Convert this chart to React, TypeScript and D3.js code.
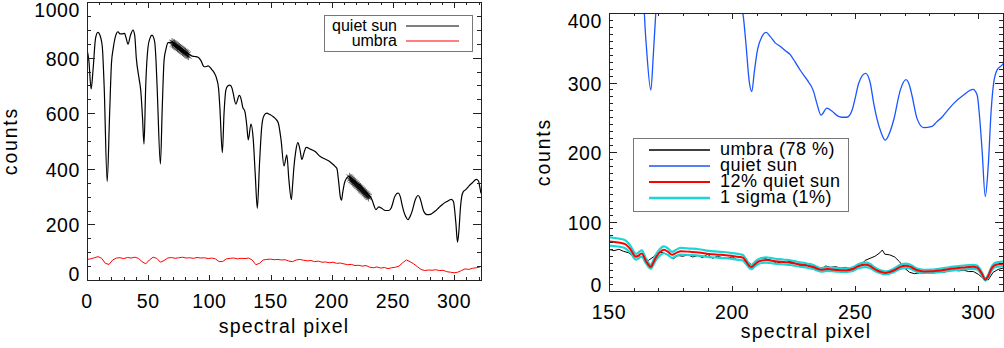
import React, { useRef, useEffect } from "react";
import * as d3 from "d3";

// quiet sun spectrum: [spectral pixel, counts]
const quietSun: [number, number][] = [
	[0, 830], [1.5, 790], [3.4, 687], [5, 760], [7, 870], [8.9, 891], [11, 875], [12.5, 840], [14, 700], [16.5, 354],
	[18.5, 600], [20, 780], [21.5, 835], [23.5, 880], [25.3, 893], [27, 885], [28.5, 885], [30.7, 887], [32, 870], [33.5, 848],
	[35.5, 880], [37.6, 899], [39, 880], [40.3, 798], [42.5, 726], [43.9, 683], [45.3, 590], [46.6, 489], [48, 700], [49.9, 839],
	[51.5, 870], [53.1, 881], [55.3, 857], [56.5, 780], [57.5, 672], [60, 417], [61.5, 620], [63, 791], [64.5, 830], [66.2, 854],
	[69, 855], [72, 845], [75, 835], [78, 825], [81, 815], [83, 812], [85.4, 806], [88, 804], [90.8, 801], [93, 790],
	[95.7, 767], [97.5, 768], [99, 770], [101.8, 758], [104, 745], [105.9, 725], [107.5, 690], [108.6, 620], [110.6, 458], [112, 600],
	[113.5, 683], [115, 698], [116.8, 701], [118.5, 690], [119.5, 671], [121.7, 633], [124.4, 664], [126, 650], [127.2, 623], [129.1, 605],
	[130.5, 560], [131.8, 504], [134, 561], [135.9, 504], [137.5, 380], [139.2, 258], [141, 420], [142.8, 551], [144.5, 590], [146.9, 600],
	[149.5, 595], [152.3, 587], [154.5, 578], [156.4, 564], [158.6, 504], [161, 410], [163.3, 450], [165, 360], [167, 289], [168, 340],
	[169, 400], [170.5, 460], [172.3, 494], [174, 470], [175.6, 434], [177.5, 460], [179.1, 477], [183, 470], [186.5, 462], [190.6, 444],
	[194, 436], [197.4, 429], [200, 420], [202.9, 408], [204.3, 400], [205.5, 360], [207, 300], [208, 287], [209, 315], [210.3, 347],
	[212.1, 366], [213.8, 372], [215.5, 366], [217.5, 357], [219.5, 352], [221.5, 346], [223.6, 340], [225.5, 330], [227.6, 318], [230.4, 304],
	[233, 288], [234.4, 270], [236.1, 253], [238.5, 263], [240.5, 259], [242.8, 252], [244.5, 250], [246.6, 250], [248.7, 260], [250, 278],
	[251.4, 299], [254.2, 313], [256.1, 299], [257.5, 270], [258.8, 248], [260.5, 228], [262.2, 217], [264, 228], [265.6, 246], [268.3, 289],
	[270.6, 304], [272, 296], [273, 282], [275.1, 248], [277.8, 235], [281.2, 237], [283, 243], [285.2, 250], [287.5, 260], [290, 270],
	[294, 282], [297.8, 290], [299.5, 282], [300.5, 250], [301.5, 203], [302.8, 136], [304, 180], [305.2, 260], [306.2, 299], [307.6, 318],
	[309.6, 325], [312.1, 338], [315, 350], [318.2, 362], [320, 356], [321, 335], [322, 312]
];

// umbra spectrum, left panel
const umbraLeft: [number, number][] = [
	[0, 74], [3, 76], [6, 80], [9, 84], [12, 78], [15, 60], [18, 56], [21, 72], [24, 79], [27, 80],
	[30, 77], [33, 81], [36, 79], [39, 82], [42, 78], [45, 66], [48, 58], [51, 72], [54, 82], [57, 78],
	[60, 64], [63, 70], [66, 79], [69, 81], [72, 78], [75, 80], [78, 82], [81, 79], [84, 80], [87, 78],
	[90, 81], [93, 79], [96, 80], [99, 77], [102, 79], [105, 76], [108, 66], [111, 67], [114, 76], [117, 78],
	[120, 79], [123, 76], [126, 78], [129, 77], [132, 79], [135, 72], [138, 55], [141, 60], [144, 72], [147, 74],
	[150, 75], [153, 73], [156, 74], [159, 72], [162, 73], [165, 68], [168, 66], [171, 72], [174, 74], [177, 71],
	[180, 69], [183, 70], [186, 66], [189, 68], [192, 64], [195, 65], [198, 62], [201, 64], [204, 60], [207, 61],
	[210, 58], [213, 55], [216, 56], [219, 52], [222, 53], [225, 50], [228, 52], [231, 46], [234, 44], [237, 47],
	[240, 43], [243, 45], [246, 41], [249, 44], [252, 46], [255, 50], [258, 62], [261, 72], [264, 66], [267, 58],
	[270, 48], [273, 38], [276, 34], [279, 36], [282, 35], [285, 37], [288, 34], [291, 35], [294, 30], [297, 28],
	[300, 26], [303, 28], [306, 34], [309, 40], [312, 38], [315, 42], [318, 44], [321, 46]
];

// asterisk markers on the quiet sun profile
const starsA: [number, number][] = [
	[69.5, 858], [70, 846], [70.5, 855], [71, 843], [71.5, 852], [72, 840], [72.5, 849], [73, 836], [73.5, 845], [74, 833],
	[74.5, 842], [75, 830], [75.5, 839], [76, 826], [76.5, 835], [77, 823], [77.5, 832], [78, 820], [78.5, 829], [79, 816],
	[79.5, 825], [80, 813], [80.5, 822], [81, 810], [81.5, 819], [82, 806], [82.5, 815], [83, 803]
];
const starsB: [number, number][] = [
	[214.5, 373], [215, 361], [215.5, 369], [216, 356], [216.5, 364], [217, 352], [217.5, 360], [218, 348], [218.5, 356], [219, 343],
	[219.5, 351], [220, 339], [220.5, 347], [221, 335], [221.5, 342], [222, 330], [222.5, 338], [223, 326], [223.5, 334], [224, 321],
	[224.5, 329], [225, 317], [225.5, 325], [226, 313], [226.5, 320], [227, 308], [227.5, 316], [228, 304], [228.5, 312], [229, 300],
	[229.5, 307], [230, 295], [230.5, 303]
];

// umbra (78 %), right panel
const umbraRight: [number, number][] = [
	[150, 60], [152, 58], [154, 60], [156, 57], [158, 55], [160, 49], [162, 51], [164, 48], [166, 44], [168, 49],
	[170, 56], [172, 55], [174, 52], [176, 46], [178, 51], [180, 50], [182, 52], [184, 49], [186, 51], [188, 48],
	[190, 53], [192, 47], [194, 50], [196, 48], [198, 47], [200, 49], [202, 45], [204, 44], [206, 42], [208, 38],
	[210, 44], [212, 48], [214, 46], [216, 44], [218, 40], [220, 42], [222, 41], [224, 43], [226, 39], [228, 36],
	[230, 38], [232, 35], [234, 32], [236, 31], [238, 36], [240, 34], [242, 35], [244, 33], [246, 34], [248, 32],
	[250, 34], [252, 36], [254, 44], [256, 47], [258, 50], [260, 55], [261, 59], [262, 53], [264, 52], [266, 49],
	[268, 42], [270, 33], [272, 27], [274, 25], [276, 26], [278, 25], [280, 27], [282, 26], [284, 28], [286, 27],
	[288, 29], [290, 30], [292, 29], [294, 30], [296, 28], [298, 28], [300, 24], [302, 18], [304, 16], [306, 27],
	[308, 31], [310, 33]
];

// 12% quiet sun and 1 sigma band
const fitPixel = [
	149.5, 152.3, 154.5, 156.4, 158.6, 161, 163.3, 165, 167, 168, 169, 170.5, 172.3, 174, 175.6, 177.5, 179.1, 183, 186.5, 190.6,
	194, 197.4, 200, 202.9, 204.3, 205.5, 207, 208, 209, 210.3, 212.1, 213.8, 215.5, 217.5, 219.5, 221.5, 223.6, 225.5, 227.6, 230.4,
	233, 234.4, 236.1, 238.5, 240.5, 242.8, 244.5, 246.6, 248.7, 250, 251.4, 254.2, 256.1, 257.5, 258.8, 260.5, 262.2, 264, 265.6, 268.3,
	270.6, 272, 273, 275.1, 277.8, 281.2, 283, 285.2, 287.5, 290, 294, 297.8, 299.5, 300.5, 301.5, 302.8, 304, 305.2, 306.2, 307.6,
	309.6, 312.1
];
const twelvePct = [
	71.4, 70.4, 69.4, 67.7, 60.5, 49.2, 54.0, 43.2, 34.7, 40.8, 48.0, 55.2, 59.3, 56.4, 52.1, 55.2, 57.2, 56.4, 55.4, 53.3,
	52.3, 51.5, 50.4, 49.0, 48.0, 43.2, 36.0, 34.4, 37.8, 41.6, 43.9, 44.6, 43.9, 42.8, 42.2, 41.5, 40.8, 39.6, 38.2, 36.5,
	34.6, 32.4, 30.4, 31.6, 31.1, 30.2, 30.0, 30.0, 31.2, 33.4, 35.9, 37.6, 35.9, 32.4, 29.8, 27.4, 26.0, 27.4, 29.5, 34.7,
	36.5, 35.5, 33.8, 29.8, 28.2, 28.4, 29.2, 30.0, 31.2, 32.4, 33.8, 34.8, 33.8, 30.0, 24.4, 16.3, 21.6, 31.2, 35.9, 38.2,
	39.0, 40.6
];
const sigmaLow = [
	65.5, 64.6, 63.6, 62.0, 55.4, 45.1, 49.5, 39.6, 31.8, 37.4, 44.0, 50.6, 54.3, 51.7, 47.7, 50.6, 52.5, 51.7, 50.8, 48.8,
	48.0, 47.2, 46.2, 44.9, 44.0, 39.6, 33.0, 31.6, 34.7, 38.2, 40.3, 40.9, 40.3, 39.3, 38.7, 38.1, 37.4, 36.3, 35.0, 33.4,
	31.7, 29.7, 27.8, 28.9, 28.5, 27.7, 27.5, 27.5, 28.6, 30.6, 32.9, 34.4, 32.9, 29.7, 27.3, 25.1, 23.9, 25.1, 27.1, 31.8,
	33.4, 32.6, 31.0, 27.3, 25.9, 26.1, 26.7, 27.5, 28.6, 29.7, 31.0, 31.9, 31.0, 27.5, 22.3, 15.0, 19.8, 28.6, 32.9, 35.0,
	35.8, 37.2
];
const sigmaHigh = [
	77.4, 76.3, 75.1, 73.3, 65.5, 53.3, 58.5, 46.8, 37.6, 44.2, 52.0, 59.8, 64.2, 61.1, 56.4, 59.8, 62.0, 61.1, 60.1, 57.7,
	56.7, 55.8, 54.6, 53.0, 52.0, 46.8, 39.0, 37.3, 41.0, 45.1, 47.6, 48.4, 47.6, 46.4, 45.8, 45.0, 44.2, 42.9, 41.3, 39.5,
	37.4, 35.1, 32.9, 34.2, 33.7, 32.8, 32.5, 32.5, 33.8, 36.1, 38.9, 40.7, 38.9, 35.1, 32.2, 29.6, 28.2, 29.6, 32.0, 37.6,
	39.5, 38.5, 36.7, 32.2, 30.6, 30.8, 31.6, 32.5, 33.8, 35.1, 36.7, 37.7, 36.7, 32.5, 26.4, 17.7, 23.4, 33.8, 38.9, 41.3,
	42.3, 43.9
];

// axes
const leftXTicks = [0, 50, 100, 150, 200, 250, 300];
const leftYTicks = [0, 200, 400, 600, 800, 1000];
const rightXTicks = [150, 200, 250, 300];
const rightYTicks = [0, 100, 200, 300, 400];

const leftLegend = [
	{ label: "quiet sun", color: "#000000" },
	{ label: "umbra", color: "#ff0000" }
];
const rightLegend = [
	{ label: "umbra (78 %)", color: "#000000" },
	{ label: "quiet sun", color: "#1a55ff" },
	{ label: "12% quiet sun", color: "#ff0000" },
	{ label: "1 sigma (1%)", color: "#1cd6d6" }
];

const FONT = "'Liberation Sans', Arial, Helvetica, sans-serif";

const App = () => {
	const chartRef = useRef<SVGSVGElement>(null);

	useEffect(() => {
		const svg = d3.select(chartRef.current);
		svg.selectAll("*").remove();

		// frame with inward ticks on all four sides, IDL style
		const drawAxes = (g: any, x: any, y: any, xTicks: number[], xMinor: number[], yTicks: number[], yMinor: number[]) => {
			const [x0, x1] = x.range();
			const [y0, y1] = y.range();

			g.append("rect")
				.attr("x", x0 + 0.5)
				.attr("y", y1 + 0.5)
				.attr("width", x1 - x0)
				.attr("height", y0 - y1)
				.attr("fill", "none")
				.attr("stroke", "#222")
				.attr("shape-rendering", "crispEdges");

			const tickG = g.append("g")
				.attr("stroke", "#222")
				.attr("shape-rendering", "crispEdges");

			const xt = (v: number, len: number) => {
				const px = Math.round(x(v)) + 0.5;
				tickG.append("line").attr("x1", px).attr("x2", px).attr("y1", y0).attr("y2", y0 - len);
				tickG.append("line").attr("x1", px).attr("x2", px).attr("y1", y1).attr("y2", y1 + len);
			};
			const yt = (v: number, len: number) => {
				const py = Math.round(y(v)) + 0.5;
				tickG.append("line").attr("y1", py).attr("y2", py).attr("x1", x0).attr("x2", x0 + len);
				tickG.append("line").attr("y1", py).attr("y2", py).attr("x1", x1).attr("x2", x1 - len);
			};
			xMinor.forEach(v => xt(v, 3));
			xTicks.forEach(v => xt(v, 5.5));
			yMinor.forEach(v => yt(v, 4));
			yTicks.forEach(v => yt(v, 8));

			g.append("g")
				.selectAll("text")
				.data(xTicks)
				.enter()
				.append("text")
				.attr("x", (d: number) => x(d))
				.attr("y", y0 + 27.5)
				.attr("text-anchor", "middle")
				.attr("font-family", FONT)
				.attr("font-size", 19.5)
				.attr("letter-spacing", 0.6)
				.text((d: number) => d);

			g.append("g")
				.selectAll("text")
				.data(yTicks)
				.enter()
				.append("text")
				.attr("x", x0 - 7)
				.attr("y", (d: number) => Math.max(y1 + 7.5, Math.min(y0 - 6.5, y(d) + 1)))
				.attr("text-anchor", "end")
				.attr("dominant-baseline", "central")
				.attr("font-family", FONT)
				.attr("font-size", 19.5)
				.attr("letter-spacing", 0.6)
				.text((d: number) => d);
		};

		const axisTitle = (txt: string, px: number, py: number, rotate: boolean) => {
			svg.append("text")
				.attr("transform", `translate(${px},${py})${rotate ? " rotate(-90)" : ""}`)
				.attr("text-anchor", "middle")
				.attr("font-family", FONT)
				.attr("font-size", 19.5)
				.attr("letter-spacing", rotate ? 1.8 : 1.2)
				.text(txt);
		};

		// ---------- left panel ----------
		const xL = d3.scaleLinear().domain([0, 322]).range([87, 481]);
		const yL = d3.scaleLinear().domain([0, 1000]).range([280, 2]);
		const left = svg.append("g");

		svg.append("clipPath").attr("id", "clipL")
			.append("rect").attr("x", 87).attr("y", 2).attr("width", 394).attr("height", 278);

		const lineL = d3.line<[number, number]>().x(d => xL(d[0])).y(d => yL(d[1]));

		left.append("path")
			.attr("clip-path", "url(#clipL)")
			.attr("d", lineL(umbraLeft))
			.attr("fill", "none")
			.attr("stroke", "#ff0000")
			.attr("stroke-width", 1);

		left.append("path")
			.attr("clip-path", "url(#clipL)")
			.attr("d", lineL.curve(d3.curveMonotoneX)(quietSun))
			.attr("fill", "none")
			.attr("stroke", "#000")
			.attr("stroke-width", 1.2);

		const star = d3.symbol().type(d3.symbolAsterisk).size(34);
		left.append("g")
			.selectAll("path")
			.data([...starsA, ...starsB])
			.enter()
			.append("path")
			.attr("transform", d => `translate(${xL(d[0])},${yL(d[1])})`)
			.attr("d", star())
			.attr("fill", "none")
			.attr("stroke", "#000")
			.attr("stroke-width", 0.55);

		drawAxes(left, xL, yL, leftXTicks, d3.range(0, 330, 10), leftYTicks, d3.range(0, 1001, 50));
		axisTitle("counts", 17, 141, true);
		axisTitle("spectral pixel", 284, 332.5, false);

		// left legend
		const lg = left.append("g");
		lg.append("rect")
			.attr("x", 324.5).attr("y", 15.5).attr("width", 148).attr("height", 36)
			.attr("fill", "#fff").attr("stroke", "#777");
		leftLegend.forEach((d, i) => {
			const ly = 26 + i * 15;
			lg.append("line")
				.attr("x1", 406).attr("x2", 459).attr("y1", ly).attr("y2", ly)
				.attr("stroke", d.color).attr("stroke-width", 1.2);
			lg.append("text")
				.attr("x", 397).attr("y", ly + 4.5)
				.attr("text-anchor", "end")
				.attr("font-family", FONT).attr("font-size", 16)
				.text(d.label);
		});

		// ---------- right panel ----------
		const xR = d3.scaleLinear().domain([150, 310]).range([609, 1003]);
		const yR = d3.scaleLinear().domain([0, 400]).range([291, 13]);
		const right = svg.append("g");

		svg.append("clipPath").attr("id", "clipR")
			.append("rect").attr("x", 609).attr("y", 13).attr("width", 394).attr("height", 278);

		const lineR = d3.line<[number, number]>().x(d => xR(d[0])).y(d => yR(d[1]));
		const lineRi = d3.line<number>().x((d, i) => xR(fitPixel[i])).y(d => yR(d)).curve(d3.curveMonotoneX);

		right.append("path")
			.attr("clip-path", "url(#clipR)")
			.attr("d", lineR.curve(d3.curveMonotoneX)(quietSun))
			.attr("fill", "none")
			.attr("stroke", "#1a55ff")
			.attr("stroke-width", 1.3);

		right.append("path")
			.attr("clip-path", "url(#clipR)")
			.attr("d", lineR.curve(d3.curveLinear)(umbraRight))
			.attr("fill", "none")
			.attr("stroke", "#000")
			.attr("stroke-width", 1);

		[sigmaHigh, sigmaLow].forEach(s => {
			right.append("path")
				.attr("clip-path", "url(#clipR)")
				.attr("d", lineRi(s))
				.attr("fill", "none")
				.attr("stroke", "#1cd6d6")
				.attr("stroke-width", 2.2);
		});

		right.append("path")
			.attr("clip-path", "url(#clipR)")
			.attr("d", lineRi(twelvePct))
			.attr("fill", "none")
			.attr("stroke", "#ff0000")
			.attr("stroke-width", 2);

		drawAxes(right, xR, yR, rightXTicks, d3.range(150, 311, 10), rightYTicks, d3.range(0, 401, 10));
		axisTitle("counts", 550, 152, true);
		axisTitle("spectral pixel", 806, 337.5, false);

		// right legend
		const rg = right.append("g");
		rg.append("rect")
			.attr("x", 633.5).attr("y", 138.5).attr("width", 215).attr("height", 73)
			.attr("fill", "#fff").attr("stroke", "#777");
		rightLegend.forEach((d, i) => {
			const ly = 150 + i * 16;
			rg.append("line")
				.attr("x1", 649).attr("x2", 710).attr("y1", ly).attr("y2", ly)
				.attr("stroke", d.color).attr("stroke-width", i === 3 ? 2.5 : i === 2 ? 2 : 1.3);
			rg.append("text")
				.attr("x", 720).attr("y", ly + 5)
				.attr("font-family", FONT).attr("font-size", 18)
				.attr("letter-spacing", 0.5)
				.text(d.label);
		});
	}, []);

	return (
		<svg
			ref={chartRef}
			width={1004}
			height={348}
			style={{ position: "absolute", left: 0, top: 0, background: "#fff" }}
		></svg>
	);
};

export default App;
